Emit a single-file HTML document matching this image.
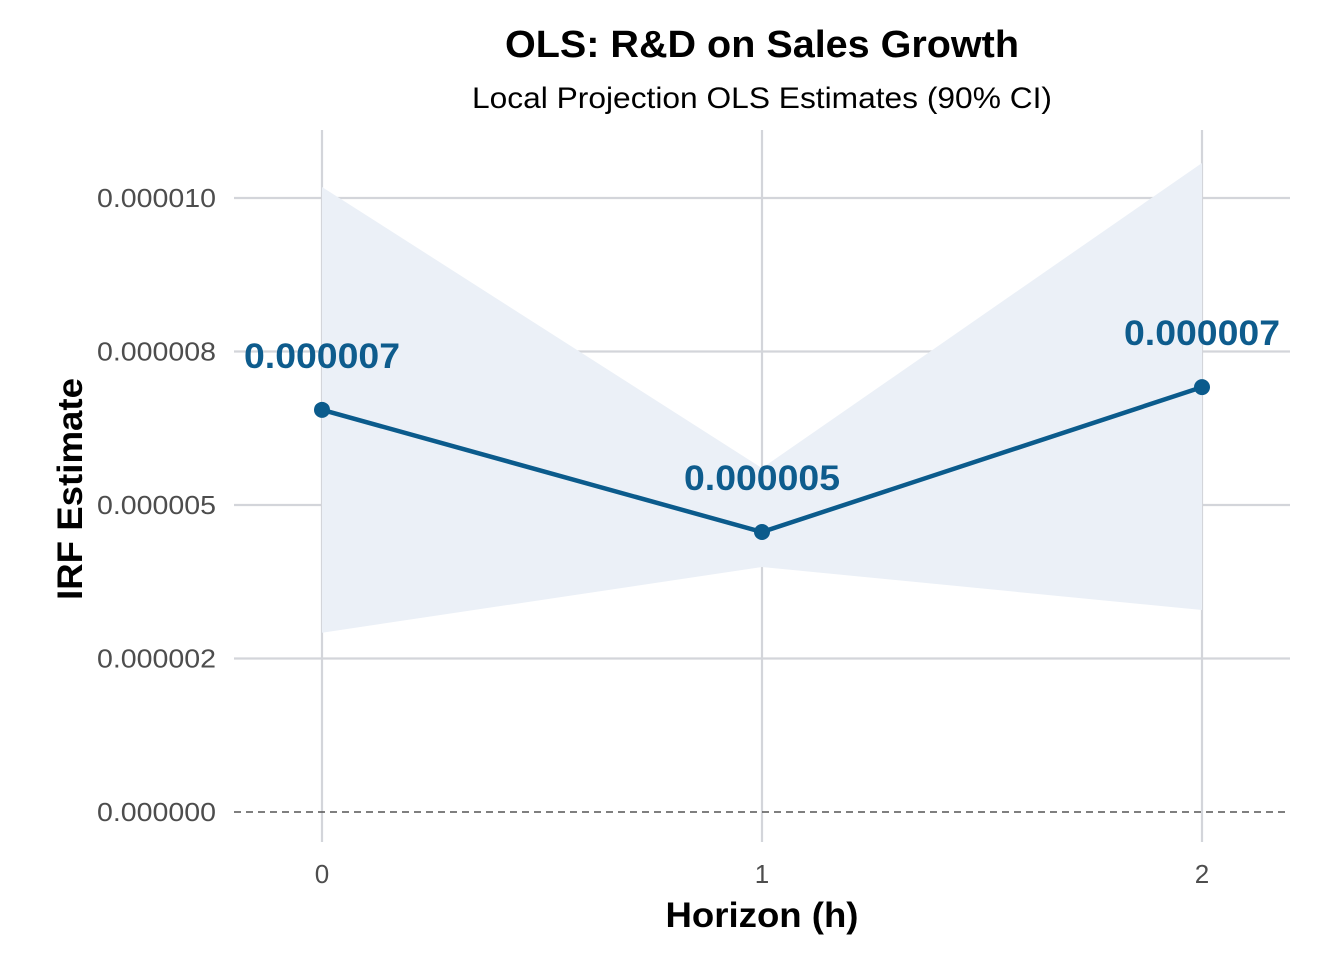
<!DOCTYPE html>
<html><head><meta charset="utf-8"><style>
html,body{margin:0;padding:0;background:#fff;}
svg{display:block;font-family:"Liberation Sans",Arial,sans-serif;}
</style></head><body>
<svg id="chart" width="1344" height="960" viewBox="0 0 1344 960">
<text x="762" y="57" text-anchor="middle" font-size="38" font-weight="bold" fill="#000" textLength="514" lengthAdjust="spacingAndGlyphs">OLS: R&amp;D on Sales Growth</text>
<text x="762" y="108" text-anchor="middle" font-size="30" fill="#000" textLength="580" lengthAdjust="spacingAndGlyphs">Local Projection OLS Estimates (90% CI)</text>
<g id="grid"></g>
<g id="marks"></g>
<text x="762" y="927" text-anchor="middle" font-size="35" font-weight="bold" fill="#000" textLength="193" lengthAdjust="spacingAndGlyphs">Horizon (h)</text>
<text transform="translate(82,489) rotate(-90)" text-anchor="middle" font-size="35" font-weight="bold" fill="#000" textLength="222" lengthAdjust="spacingAndGlyphs">IRF Estimate</text>
</svg>
<script>
const horizons = [0, 1, 2];
const estimates = [6.55e-6, 4.56e-6, 6.92e-6];
const ciLower = [2.92e-6, 3.99e-6, 3.29e-6];
const ciUpper = [10.18e-6, 5.6e-6, 10.57e-6];
const pointLabels = ["0.000007", "0.000005", "0.000007"];
const yTicks = [0, 2.5e-6, 5e-6, 7.5e-6, 1e-5];
const yTickLabels = ["0.000000", "0.000002", "0.000005", "0.000008", "0.000010"];
const xTickLabels = ["0", "1", "2"];

const NS = "http://www.w3.org/2000/svg";
const xs = h => 322 + h * 440;
const ys = v => 812 - v * 6.14e7;
function mk(tag, attrs, parent) {
  const e = document.createElementNS(NS, tag);
  for (const k in attrs) e.setAttribute(k, attrs[k]);
  parent.appendChild(e);
  return e;
}
const grid = document.getElementById('grid');
const marks = document.getElementById('marks');
yTicks.forEach((t, i) => {
  if (t !== 0) {
    const l = mk('line', {x1: 234, x2: 1290, y1: ys(t), y2: ys(t), stroke: '#d3d5da', 'stroke-width': 2.2}, grid);
    
    
  }
  const tx = mk('text', {x: 216, y: ys(t) + 9, 'text-anchor': 'end', 'font-size': 26, fill: '#4d4d4d', textLength: 119, lengthAdjust: 'spacingAndGlyphs'}, grid);
  tx.textContent = yTickLabels[i];
  
  
});
horizons.forEach((h, i) => {
  const l = mk('line', {x1: xs(h), x2: xs(h), y1: 130, y2: 842, stroke: '#d3d5da', 'stroke-width': 2.2}, grid);
  
  
  const tx = mk('text', {x: xs(h), y: 883, 'text-anchor': 'middle', 'font-size': 26, fill: '#4d4d4d'}, grid);
  tx.textContent = xTickLabels[i];
  
  
});
let d = horizons.map((h, i) => (i ? 'L' : 'M') + xs(h) + ',' + ys(ciUpper[i])).join(' ');
for (let i = horizons.length - 1; i >= 0; i--) d += ' L' + xs(horizons[i]) + ',' + ys(ciLower[i]);
const rib = mk('path', {d: d + ' Z', fill: '#ebf0f7'}, marks);


const zl = mk('line', {x1: 234, x2: 1290, y1: ys(0), y2: ys(0), stroke: '#555', 'stroke-width': 1.6, 'stroke-dasharray': '7,5'}, marks);


const pl = mk('polyline', {points: horizons.map((h, i) => xs(h) + ',' + ys(estimates[i])).join(' '), fill: 'none', stroke: '#0b5b8c', 'stroke-width': 4.5}, marks);


horizons.forEach((h, i) => {
  const c = mk('circle', {cx: xs(h), cy: ys(estimates[i]), r: 8, fill: '#0b5b8c'}, marks);
  
  
  const tx = mk('text', {x: xs(h), y: ys(estimates[i]) - 42, 'text-anchor': 'middle', 'font-size': 35, 'font-weight': 'bold', fill: '#0e5c8d', textLength: 156, lengthAdjust: 'spacingAndGlyphs'}, marks);
  tx.textContent = pointLabels[i];
  
  
});
</script>
</body></html>
